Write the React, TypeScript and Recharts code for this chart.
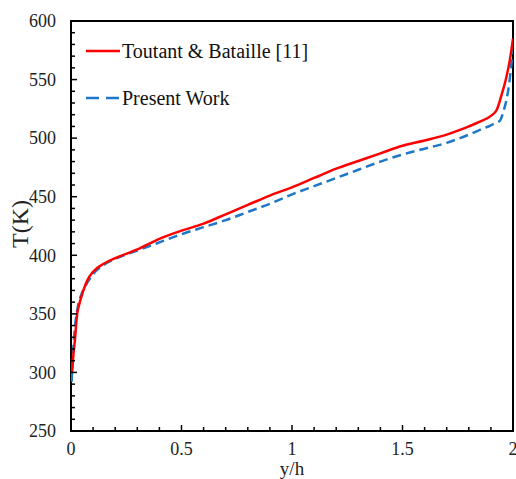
import { LineChart, Line, XAxis, YAxis, ReferenceArea } from 'recharts';

// Toutant & Bataille [11]
const refY = [0.005, 0.01, 0.018, 0.026, 0.04, 0.056, 0.075, 0.1, 0.15, 0.2, 0.3, 0.4, 0.5, 0.6, 0.7, 0.8, 0.9, 1.0, 1.1, 1.2, 1.3, 1.4, 1.5, 1.6, 1.7, 1.76, 1.8, 1.85, 1.9, 1.926, 1.95, 1.97, 1.986, 2.0];
const refT = [300, 313, 328, 347, 360, 370, 379, 386, 393, 397.5, 405, 414, 421, 427, 435, 443, 451, 458, 466, 474, 480.5, 487, 493.5, 498, 503, 507, 510, 514, 519, 524, 538, 552, 567, 585];

// Present Work
const presY = [0.003, 0.01, 0.018, 0.03, 0.05, 0.075, 0.1, 0.15, 0.2, 0.3, 0.4, 0.5, 0.6, 0.7, 0.8, 0.9, 1.0, 1.1, 1.2, 1.3, 1.4, 1.5, 1.6, 1.7, 1.76, 1.8, 1.85, 1.9, 1.941, 1.96, 1.971, 1.985, 2.0];
const presT = [292, 319, 339, 355, 368, 377, 384, 392, 397, 404, 411, 418, 424, 430, 437, 444, 452, 459, 466, 473, 480, 486, 491, 496, 500, 503, 507, 511, 515, 525, 533, 550, 578];

const xMajor = [0, 0.5, 1, 1.5, 2];
const yMajor = [250, 300, 350, 400, 450, 500, 550, 600];

// minor ticks every 0.1 on x and every 10 K on y
const xTicks = Array.from({ length: 21 }, (_, i) => i / 10);
const yTicks = Array.from({ length: 36 }, (_, i) => 250 + i * 10);

const refData = refY.map((y, i) => ({ y, T: refT[i] }));
const presData = presY.map((y, i) => ({ y, T: presT[i] }));

const FONT = '"Liberation Serif", "Times New Roman", serif';
const txt = { fontFamily: FONT };

const XTick = (props: any) => {
  const { x, y, payload } = props;
  const major = xMajor.includes(payload.value);
  return (
    <g>
      <line x1={x} x2={x} y1={y} y2={y - (major ? 6 : 4)} stroke="#000" strokeWidth={1.5} />
      {major && (
        <text x={x} y={y + 24} textAnchor="middle" style={txt} fontSize={18} fill="#222">
          {payload.value}
        </text>
      )}
    </g>
  );
};

const YTick = (props: any) => {
  const { x, y, payload } = props;
  const major = yMajor.includes(payload.value);
  return (
    <g>
      <line x1={x} x2={x + (major ? 6 : 4)} y1={y} y2={y} stroke="#000" strokeWidth={1.5} />
      {major && (
        <text x={x - 15} y={y} dy="0.35em" textAnchor="end" style={txt} fontSize={18} fill="#222">
          {payload.value}
        </text>
      )}
    </g>
  );
};

export default function App() {
  return (
    <div style={{ position: 'absolute', left: 0, top: 0, width: 516, height: 479, background: '#fff' }}>
      <LineChart width={516} height={479} margin={{ top: 21, right: 3, left: 0, bottom: 18 }}>
        <XAxis
          dataKey="y"
          type="number"
          domain={[0, 2]}
          ticks={xTicks}
          interval={0}
          tickSize={0}
          tickMargin={0}
          tick={<XTick />}
          axisLine={false}
          height={30}
          allowDataOverflow
          label={{
            content: () => (
              <text x={292} y={475} textAnchor="middle" style={txt} fontSize={19} fill="#222">y/h</text>
            ),
          }}
        />
        <YAxis
          dataKey="T"
          type="number"
          domain={[250, 600]}
          ticks={yTicks}
          interval={0}
          tickSize={0}
          tickMargin={0}
          tick={<YTick />}
          axisLine={false}
          width={71}
          allowDataOverflow
          label={{
            content: () => (
              <text x={20} y={224} transform="rotate(-90 20 224)" textAnchor="middle" dy="0.35em" style={txt} fontSize={24} fill="#222">T(K)</text>
            ),
          }}
        />
        <ReferenceArea x1={0} x2={2} y1={250} y2={600} fill="none" stroke="#000" strokeWidth={2} ifOverflow="visible" />
        <Line data={presData} dataKey="T" type="monotone" stroke="#1f77c9" strokeWidth={2.5} strokeDasharray="9 5" dot={false} isAnimationActive={false} />
        <Line data={refData} dataKey="T" type="monotone" stroke="#ff0000" strokeWidth={2.5} dot={false} isAnimationActive={false} />
      </LineChart>
      <svg width={230} height={80} style={{ position: 'absolute', left: 84, top: 39 }}>
        <line x1={2} x2={36} y1={12} y2={12} stroke="#ff0000" strokeWidth={2.5} />
        <text x={38} y={12} dy="0.35em" style={txt} fontSize={20} fill="#111">Toutant &amp; Bataille [11]</text>
        <line x1={2} x2={35} y1={59} y2={59} stroke="#1f77c9" strokeWidth={2.5} strokeDasharray="13 7" />
        <text x={38} y={59} dy="0.35em" style={txt} fontSize={20} fill="#111">Present Work</text>
      </svg>
    </div>
  );
}
